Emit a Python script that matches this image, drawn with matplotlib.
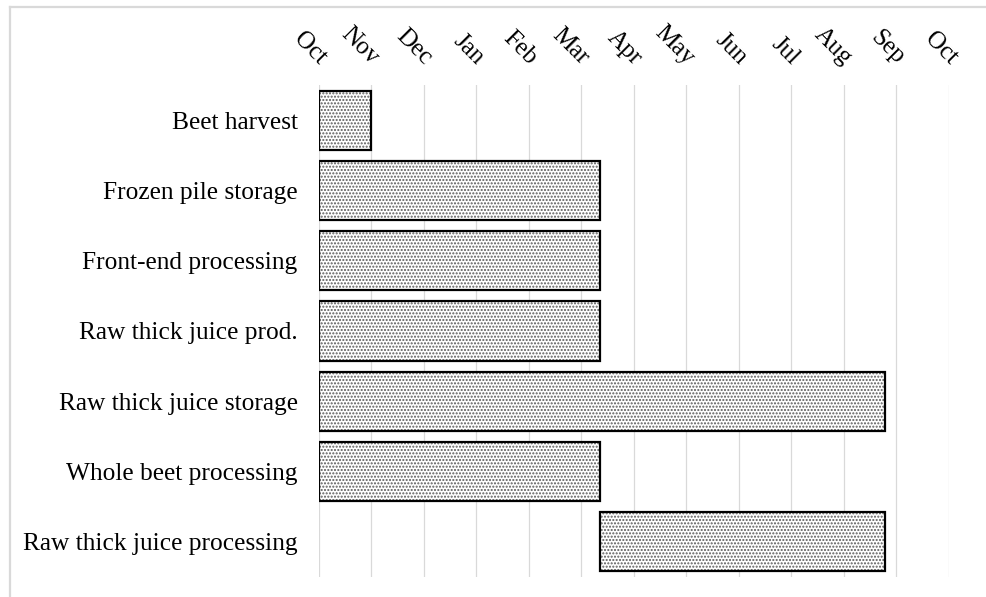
import matplotlib
matplotlib.use("Agg")
import matplotlib.pyplot as plt
from matplotlib.lines import Line2D

# Processing campaign schedule, in months elapsed since 1 October
activities = [
    "Beet harvest",
    "Frozen pile storage",
    "Front-end processing",
    "Raw thick juice prod.",
    "Raw thick juice storage",
    "Whole beet processing",
    "Raw thick juice processing",
]
start_month = [0, 0, 0, 0, 0, 0, 5.35]
end_month = [1, 5.35, 5.35, 5.35, 10.78, 5.35, 10.78]
month_labels = ["Oct", "Nov", "Dec", "Jan", "Feb", "Mar", "Apr",
                "May", "Jun", "Jul", "Aug", "Sep", "Oct"]

plt.rcParams["font.family"] = ["Liberation Serif", "DejaVu Serif"]
plt.rcParams["hatch.linewidth"] = 1.0

fig = plt.figure(figsize=(9.86, 5.97), dpi=100)

# light chart-area frame
fig.add_artist(Line2D([9.5 / 986, 1.0], [1 - 6.5 / 597, 1 - 6.5 / 597],
                      transform=fig.transFigure, color="#d9d9d9", lw=1.6))
fig.add_artist(Line2D([9.5 / 986, 9.5 / 986], [0.0, 1 - 6.5 / 597],
                      transform=fig.transFigure, color="#d9d9d9", lw=1.6))

ax = fig.add_axes([318.5 / 986, 1 - 577 / 597, (949 - 318.5) / 986, (577 - 85) / 597])

ypos = list(range(len(activities)))
widths = [e - s for s, e in zip(start_month, end_month)]

ax.barh(ypos, widths, left=start_month, height=0.84, color="white",
        edgecolor="#5a5a5a", hatch=".....", linewidth=0, zorder=2)
ax.barh(ypos, widths, left=start_month, height=0.84, fill=False,
        edgecolor="black", linewidth=1.6, zorder=3)

ax.set_xlim(0, 12)
ax.set_ylim(len(activities) - 0.5, -0.5)

ax.set_xticks(range(len(month_labels)))
ax.set_xticklabels(month_labels)
ax.xaxis.tick_top()
ax.tick_params(axis="x", length=0, pad=14, labelsize=18)
for lbl in ax.get_xticklabels():
    lbl.set_rotation(-45)
    lbl.set_rotation_mode("anchor")
    lbl.set_ha("right")
    lbl.set_va("baseline")

ax.set_yticks(ypos)
ax.set_yticklabels(activities)
ax.tick_params(axis="y", length=0, pad=15, labelsize=18.3)

ax.set_axisbelow(True)
ax.grid(axis="x", color="#d9d9d9", lw=0.9)
ax.grid(axis="y", visible=False)
for sp in ax.spines.values():
    sp.set_visible(False)

fig.savefig("out.png", dpi=100)
